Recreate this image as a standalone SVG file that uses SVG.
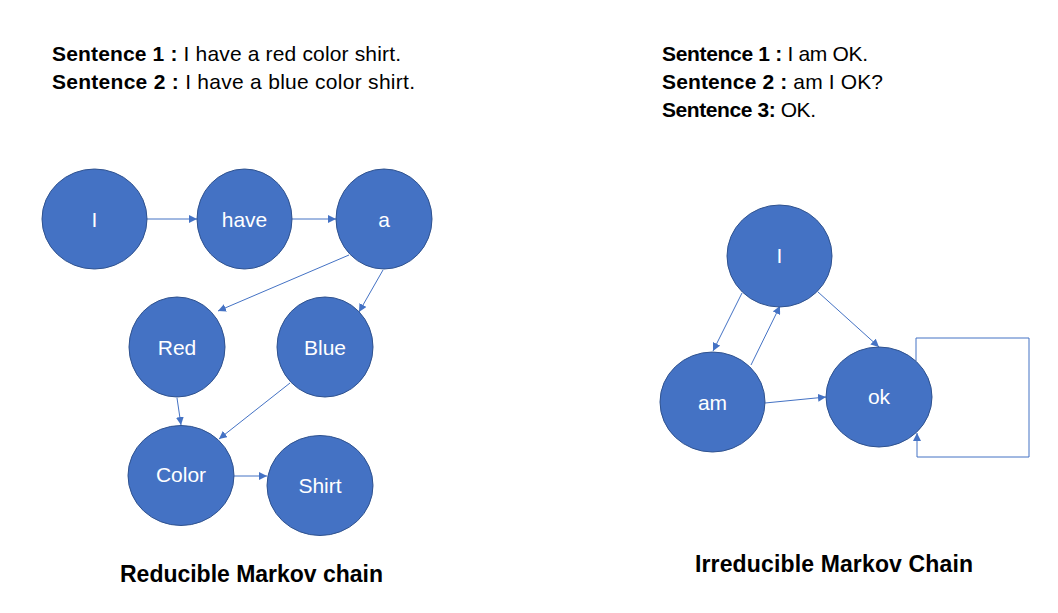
<svg xmlns="http://www.w3.org/2000/svg" width="1058" height="613" viewBox="0 0 1058 613">
<style>
.n{fill:#4472C4;stroke:#2F528F;stroke-width:1}
.l{fill:#fff;font-family:"Liberation Sans",Arial,sans-serif;font-size:21px;text-anchor:middle}
.t{fill:#000;font-family:"Liberation Sans",Arial,sans-serif;font-size:21px}
.b{font-weight:bold}
.h{fill:#000;font-family:"Liberation Sans",Arial,sans-serif;font-size:23px;font-weight:bold;text-anchor:middle}
.c{stroke:#4472C4;stroke-width:1;fill:none;marker-end:url(#ah)}
</style>
<defs>
<marker id="ah" viewBox="0 0 10 10" refX="10" refY="5" markerWidth="8" markerHeight="8" markerUnits="userSpaceOnUse" orient="auto">
<path d="M0,0 L10,5 L0,10 z" fill="#4472C4"/>
</marker>
</defs>
<rect width="1058" height="613" fill="#fff"/>
<g id="text-left">
<text class="t" x="52" y="61" textLength="349" lengthAdjust="spacing"><tspan class="b">Sentence 1 :</tspan> I have a red color shirt.</text>
<text class="t" x="52" y="89" textLength="363" lengthAdjust="spacing"><tspan class="b">Sentence 2 :</tspan> I have a blue color shirt.</text>
</g>
<g id="text-right">
<text class="t" x="662" y="61" textLength="206" lengthAdjust="spacing"><tspan class="b">Sentence 1 :</tspan> I am OK.</text>
<text class="t" x="662" y="89" textLength="221" lengthAdjust="spacing"><tspan class="b">Sentence 2 :</tspan> am I OK?</text>
<text class="t" x="662" y="117" textLength="154" lengthAdjust="spacing"><tspan class="b">Sentence 3:</tspan> OK.</text>
</g>
<g id="connectors">
<line class="c" x1="147" y1="219" x2="197" y2="219"/>
<line class="c" x1="292" y1="219" x2="336" y2="219"/>
<line class="c" x1="349" y1="255" x2="218" y2="311"/>
<line class="c" x1="383" y1="270" x2="359" y2="312"/>
<line class="c" x1="177" y1="398" x2="181" y2="425"/>
<line class="c" x1="290" y1="383" x2="219" y2="439"/>
<line class="c" x1="234" y1="476" x2="267" y2="476"/>
<line class="c" x1="742" y1="293" x2="713" y2="351"/>
<line class="c" x1="751" y1="365" x2="780" y2="306"/>
<line class="c" x1="818" y1="292" x2="879" y2="347"/>
<line class="c" x1="765" y1="403" x2="826" y2="397"/>
<path class="c" d="M916,361 V338 H1029 V457 H917 V433"/>
</g>
<g id="node-I"><ellipse class="n" cx="94.5" cy="219" rx="52.5" ry="50"/><text class="l" x="94.5" y="227">I</text></g>
<g id="node-have"><ellipse class="n" cx="244.5" cy="219" rx="47.5" ry="50"/><text class="l" x="244.5" y="227">have</text></g>
<g id="node-a"><ellipse class="n" cx="384" cy="219" rx="48" ry="50"/><text class="l" x="384" y="227">a</text></g>
<g id="node-Red"><ellipse class="n" cx="177" cy="347" rx="48" ry="50"/><text class="l" x="177" y="355">Red</text></g>
<g id="node-Blue"><ellipse class="n" cx="325" cy="347" rx="48" ry="50"/><text class="l" x="325" y="355">Blue</text></g>
<g id="node-Color"><ellipse class="n" cx="181" cy="475.5" rx="53" ry="50"/><text class="l" x="181" y="482">Color</text></g>
<g id="node-Shirt"><ellipse class="n" cx="320" cy="485.5" rx="53" ry="50"/><text class="l" x="320" y="493">Shirt</text></g>
<g id="node-I2"><ellipse class="n" cx="779.5" cy="256" rx="52.5" ry="51"/><text class="l" x="779.5" y="263">I</text></g>
<g id="node-am"><ellipse class="n" cx="712.5" cy="402" rx="52.5" ry="50"/><text class="l" x="712.5" y="410">am</text></g>
<g id="node-ok"><ellipse class="n" cx="879" cy="397" rx="53" ry="50"/><text class="l" x="879" y="404">ok</text></g>
<g id="titles">
<text class="h" x="251.5" y="582" textLength="263" lengthAdjust="spacing">Reducible Markov chain</text>
<text class="h" x="834" y="572" textLength="278" lengthAdjust="spacing">Irreducible Markov Chain</text>
</g>
</svg>
